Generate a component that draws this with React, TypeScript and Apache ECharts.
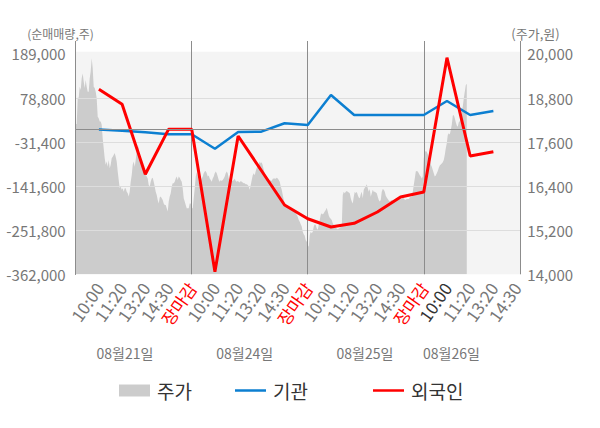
import React, { useEffect, useRef } from 'react';
import * as echarts from 'echarts';

// ---- data ----
const TIME_LABELS = ['10:00', '11:20', '13:20', '14:30', '장마감'];
const DAY_LABELS = ['08월21일', '08월24일', '08월25일', '08월26일'];
const LEFT_TICKS = [-362000, -251800, -141600, -31400, 78800, 189000];
const RIGHT_TICKS = [14000, 15200, 16400, 17600, 18800, 20000];

// positions of the net-volume points, in label slots (5 slots per trading day)
const FLOW_SLOTS = [1, 2, 3, 4, 5, 6, 7, 8, 9, 10, 11, 12, 13, 14, 15, 16, 17, 18];
const INSTITUTION = [0, -2900, -6900, -11900, -11900, -47900, -6200, -5400, 15600, 11300, 86400, 36300, 36300, 36300, 36300, 71400, 36300, 46300];
const FOREIGN = [100600, 63100, -111900, 500, 500, -355500, -16200, -102400, -188700, -223000, -243700, -234500, -206200, -168700, -156200, 179600, -66200, -55400];

// intraday price, one sample per 1/23.2 slot
const PRICE_SAMPLES_PER_SLOT = 23.2;
const PRICE = [
  18090, 18090, 18810, 18810, 19110, 19020, 19340, 19470, 19250, 19070,
  19290, 19110, 18970, 18970, 19340, 19520, 19880, 19610, 19110, 19070,
  18970, 18790, 18290, 18250, 18160, 18160, 18070, 17700, 17430, 17160,
  16980, 17070, 16930, 17110, 16890, 16980, 17160, 17200, 17250, 17300,
  17200, 17070, 16800, 16570, 16340, 16390, 16300, 16340, 16250, 16340,
  16340, 16250, 16210, 16120, 16250, 16520, 16700, 16980, 17070, 16930,
  17110, 17340, 17520, 17430, 17250, 17110, 17070, 16980, 16840, 16750,
  16700, 16660, 16610, 16430, 16390, 16520, 16610, 16630, 16520, 16390,
  16250, 16160, 16020, 15930, 16090, 16120, 16070, 16020, 15930, 15890,
  15890, 15800, 15710, 15980, 16120, 16210, 16390, 16480, 16480, 16520,
  16610, 16660, 16570, 16660, 16630, 16570, 16520, 16340, 16070, 15980,
  15890, 15800, 15800, 15800, 15930, 15930, 15800, 15800, 16070,
  16340, 16660, 16780, 16660, 16520, 16430, 16520, 16610, 16660, 16750,
  16800, 16810, 16750, 16660, 16690, 16610, 16570, 16520, 16610, 16660,
  16750, 16800, 16750, 16660, 16570, 16520, 16570, 16540, 16570, 16610,
  16660, 16750, 16800, 16750, 16610, 16570, 16520, 16570, 16540, 16570,
  16600, 16540, 16520, 16540, 16520, 16500, 16540, 16520, 16500, 16480,
  16480, 16450, 16450, 16430, 16390, 16300, 16430, 16570, 16700, 16750,
  16700, 16810, 16900, 16930, 16990, 17070, 17020, 17050, 16960, 16840,
  16750, 16690, 16610, 16570, 16520, 16540, 16570, 16540, 16600, 16610,
  16610, 16600, 16630, 16610, 16570, 16520, 16390, 16300, 16160, 16020,
  15930, 15890, 15870, 15840, 15810, 15800, 15800, 15780, 15750, 15750,
  15720, 15660, 15620, 15570, 15480, 15430, 15360, 15300, 15160, 15090,
  15050, 14930, 14890, 14800, 14750, 15070,
  15160, 15120, 15160, 15300, 15360, 15340, 15250, 15210, 15340, 15480,
  15620, 15660, 15630, 15660, 15710, 15750, 15810, 15710, 15600, 15540,
  15510, 15480, 15390, 15340, 15290, 15270, 15250, 15230, 15250, 15270,
  15290, 15300, 16160, 16250, 16210, 16250, 16270, 16250, 16230, 16210,
  16070, 15980, 15930, 16110, 16250, 16210, 16250, 16160, 16090, 16070,
  16180, 16250, 16070, 16300, 16360, 16390, 16450, 16340, 16250, 16320,
  16110, 16210, 16300, 16250, 16250, 16230, 16210, 16110, 16020, 15980,
  16020, 16250, 16320, 16300, 16250, 16140, 16090, 16050, 16010, 15980,
  16000, 16020, 16000, 15980, 15980, 16010, 16050, 16050, 16050, 16070,
  16070, 16050, 16070, 16070, 16030, 16030, 16050, 16050, 16050, 16090,
  16110, 16110, 16250, 16430, 16610, 16800, 16810, 16800, 16750, 16700,
  16660, 16610, 16660,
  17160, 17320, 17360, 17340, 17270, 17180, 17090, 16990, 16930, 16840,
  16750, 16660, 16690, 16750, 16810, 16900, 16960, 16990, 17020, 17050,
  17110, 17250, 17430, 17570, 17790, 17840, 17810, 17930, 18070, 18320,
  18340, 18250, 18140, 18050, 18020, 18140, 18170, 18270, 18450, 18570,
  18790, 18970, 19150, 19190,
];

const FONT = '"Noto Sans CJK KR", "Noto Sans", sans-serif';
const GREY_TEXT = '#777777';
const DARK_LINE = '#8c8c8c';
const BLUE = '#0c7fd1';
const RED = '#ff0000';
const GREY_AREA = '#cccccc';

function slotLabel(v: number): string {
  const s = Math.round(v);
  if (Math.abs(v - s) > 1e-6 || s < 1 || s > 19) return '';
  return TIME_LABELS[(s - 1) % 5];
}

function slotColor(v: number): string {
  const s = Math.round(Number(v));
  if (s >= 1 && (s - 1) % 5 === 4) return RED;
  if (s === 16) return '#333333';
  return GREY_TEXT;
}

const fmt = (v: number) => Number(v).toLocaleString('en-US');

export default function App() {
  const ref = useRef<HTMLDivElement>(null);

  useEffect(() => {
    if (!ref.current) return;
    const chart = echarts.init(ref.current, undefined, { renderer: 'svg' });

    const gridLeft = 75.7;
    const gridRight = 79.7;
    const gridTop = 45;
    const gridBottom = 153.7;
    const xMax = 19.16;

    const dayCenters = [125, 244.7, 365, 451.5];

    const legendBase = {
      top: 376,
      itemWidth: 31,
      selectedMode: false,
      textStyle: { fontFamily: FONT, fontSize: 19, color: '#333333', padding: [0, 0, 0, 2] },
    };

    const option: any = {
      animation: false,
      grid: { left: gridLeft, right: gridRight, top: gridTop, bottom: gridBottom },
      graphic: [
        {
          type: 'rect',
          silent: true,
          z: -10,
          shape: { x: gridLeft, y: 51.7, width: 600 - gridLeft - gridRight, height: 428 - gridBottom - 51.7 },
          style: { fill: '#f4f4f4' },
        },
        {
          type: 'text', silent: true, x: 60.5, y: 33.5,
          style: { text: '(순매매량,주)', fill: GREY_TEXT, font: `12px ${FONT}`, textAlign: 'center', textVerticalAlign: 'middle' },
        },
        {
          type: 'text', silent: true, x: 535.5, y: 33.5,
          style: { text: '(주가,원)', fill: GREY_TEXT, font: `13px ${FONT}`, textAlign: 'center', textVerticalAlign: 'middle' },
        },
        ...DAY_LABELS.map((d, i) => ({
          type: 'text', silent: true, x: dayCenters[i], y: 353.3,
          style: { text: d, fill: GREY_TEXT, font: `14px ${FONT}`, textAlign: 'center', textVerticalAlign: 'middle' },
        })),
      ],
      legend: [
        { ...legendBase, left: 114, itemHeight: 12, data: [{ name: '주가', icon: 'rect' }] },
        { ...legendBase, left: 230, itemHeight: 2.5, data: [{ name: '기관', icon: 'rect', itemStyle: { color: BLUE } }] },
        { ...legendBase, left: 368, itemHeight: 2.5, data: [{ name: '외국인', icon: 'rect', itemStyle: { color: RED } }] },
      ],
      xAxis: [
        {
          type: 'value',
          min: 0,
          max: xMax,
          interval: 1,
          axisLine: { show: true, lineStyle: { color: '#999999', width: 1 } },
          axisTick: { show: false },
          splitLine: { show: false },
          axisLabel: {
            rotate: 55,
            margin: 10,
            fontFamily: FONT,
            fontSize: 17,
            formatter: (v: number) => slotLabel(v),
            color: (v: number) => slotColor(v),
          },
        },
        {
          type: 'value',
          min: 0,
          max: xMax,
          interval: 5,
          axisLine: { show: false },
          axisLabel: { show: false },
          axisTick: { show: true, length: 4, lineStyle: { color: DARK_LINE } },
          splitLine: { show: true, lineStyle: { color: DARK_LINE, width: 1 } },
        },
      ],
      yAxis: [
        {
          type: 'value',
          min: -362000,
          max: 211378,
          interval: 110200,
          axisLine: { show: true, lineStyle: { color: DARK_LINE } },
          axisTick: { show: false, customValues: LEFT_TICKS },
          axisLabel: {
            customValues: LEFT_TICKS,
            margin: 10,
            fontFamily: FONT,
            fontSize: 15,
            color: GREY_TEXT,
            formatter: (v: number) => fmt(v),
          },
          splitLine: {
            show: true,
            lineStyle: { color: ['rgba(0,0,0,0)', '#dddddd', '#dddddd', '#dddddd', '#dddddd', 'rgba(0,0,0,0)'], width: 1 },
          },
        },
        {
          type: 'value',
          position: 'right',
          min: 14000,
          max: 20243.7,
          axisLine: { show: true, lineStyle: { color: DARK_LINE } },
          axisTick: { show: false, customValues: RIGHT_TICKS },
          axisLabel: {
            customValues: RIGHT_TICKS,
            margin: 7,
            fontFamily: FONT,
            fontSize: 15,
            color: GREY_TEXT,
            formatter: (v: number) => fmt(v),
          },
          splitLine: { show: false },
        },
      ],
      series: [
        {
          name: '주가',
          type: 'line',
          xAxisIndex: 0,
          yAxisIndex: 1,
          z: -1,
          symbol: 'none',
          silent: true,
          data: PRICE.map((v, i) => [i / PRICE_SAMPLES_PER_SLOT, v]),
          lineStyle: { width: 0, color: GREY_AREA },
          itemStyle: { color: GREY_AREA },
          areaStyle: { color: GREY_AREA, opacity: 1 },
        },
        {
          name: '기관',
          type: 'line',
          xAxisIndex: 0,
          yAxisIndex: 0,
          z: 3,
          symbol: 'none',
          data: FLOW_SLOTS.map((s, i) => [s, INSTITUTION[i]]),
          itemStyle: { color: BLUE },
          lineStyle: { color: BLUE, width: 2.5 },
          markLine: {
            silent: true,
            symbol: ['none', 'none'],
            label: { show: false },
            lineStyle: { color: DARK_LINE, width: 1, type: 'solid' },
            data: [{ yAxis: 0 }],
          },
        },
        {
          name: '외국인',
          type: 'line',
          xAxisIndex: 0,
          yAxisIndex: 0,
          z: 4,
          symbol: 'none',
          data: FLOW_SLOTS.map((s, i) => [s, FOREIGN[i]]),
          itemStyle: { color: RED },
          lineStyle: { color: RED, width: 3 },
        },
      ],
    };

    chart.setOption(option);
    return () => chart.dispose();
  }, []);

  return (
    <div
      ref={ref}
      style={{ position: 'fixed', left: 0, top: 0, width: 600, height: 428, background: '#ffffff' }}
    />
  );
}
